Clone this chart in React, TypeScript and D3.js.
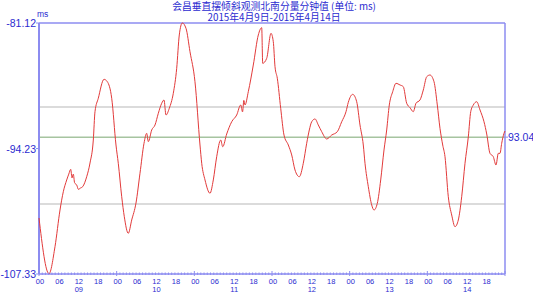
import React from "react";
import * as d3 from "d3";

const titleLines = ["会昌垂直摆倾斜观测北南分量分钟值 (单位: ms)", "2015年4月9日-2015年4月14日"];
const yTickValues = [-81.12, -94.23, -107.33];
const yTickLabels = ["-81.12", "-94.23", "-107.33"];
const dayLabels = ["09", "10", "11", "12", "13", "14"];
const hourLabels = ["00", "06", "12", "18"];
const refGreen = -93.04;
const refGrayHigh = -89.89;
const refGrayLow = -100.02;
const lastLabel = "93.04";

// hours since 2015-04-09 00:00
const hours = [
  0, 3.09, 4.94, 6.49, 7.51, 8.56, 9.2, 9.8, 10.2, 10.6, 11.0, 11.65, 12.2, 12.67, 13.5, 14.74, 15.76, 16.78, 17.3, 18.32,
  20.09, 21.11, 22.47, 23.79, 24.5, 25.56, 26.36, 27.59, 28.65, 29.97, 31.21, 32.45, 33.28, 33.78, 34.83,
  35.85, 36.87, 37.92, 38.63, 39.24, 40.26, 41.5, 42.55, 43.35, 44.28, 45.42, 46.66, 48.2, 49.75,
  50.28, 51.3, 52.84, 53.86, 54.91, 56.15, 56.77, 58.0, 59.55, 61.09, 62.33, 62.9, 63.3, 63.66, 64.68,
  66.22, 67.77, 68.82, 69.13, 70.36, 71.69, 72.4, 72.93, 73.64, 74.69, 75.71, 77.04, 78.09, 79.11,
  80.44, 81.67, 82.72, 83.53, 84.27, 85.29, 86.31, 87.36, 88.9, 90.45, 92.18, 93.54, 94.87, 95.58,
  96.94, 98.17, 99.19, 100.21, 100.74, 101.76, 102.81, 103.52, 104.54, 105.59, 106.61, 107.44,
  108.25, 109.3, 110.32, 111.55, 112.57, 113.62, 114.64, 115.66, 116.5, 117.73, 118.75, 119.81,
  120.82, 122.06, 123.08, 123.91, 124.75, 125.46, 126.48, 127.53, 128.55, 129.57, 130.62, 131.64,
  132.66, 133.41, 134.21, 135.26, 136.28, 137.51, 138.35, 139.36, 140.38, 141.22, 141.93, 142.45,
  142.98, 143.69, 144
];
const values = [
  -101.48, -107.3, -104.48, -100.65, -98.74, -97.51, -96.9, -96.4, -97.3, -96.9, -97.8, -98.04, -98.5, -98.38, -98.21, -97.17, -95.74, -93.34, -90.38, -88.98,
  -87.0, -87.25, -88.98, -93.86, -95.77, -99.26, -101.35, -103.08, -101.69, -99.92, -96.81, -93.68, -92.64, -93.51, -92.29,
  -91.77, -90.55, -89.5, -89.16, -90.73, -90.03, -88.46, -85.85, -82.37, -81.12, -81.67, -84.12, -87.25, -93.86,
  -95.77, -97.51, -98.9, -97.51, -95.08, -93.34, -94.04, -92.71, -91.43, -90.73, -89.68, -90.4, -89.2, -89.68, -88.29,
  -85.51, -82.37, -81.61, -85.33, -84.81, -82.2, -83.07, -85.68, -86.89, -90.03, -92.82, -93.86, -94.9, -96.47,
  -97.17, -95.77, -93.68, -92.29, -91.43, -91.14, -91.77, -92.47, -93.23, -92.82, -92.47, -91.43, -90.38, -89.4,
  -88.57, -89.34, -91.77, -93.86, -95.77, -98.21, -100.12, -100.65, -99.95, -97.51, -94.38, -92.29,
  -89.68, -88.29, -87.42, -87.59, -87.77, -89.5, -89.96, -90.38, -89.5, -89.16, -88.12, -86.73,
  -86.55, -87.25, -89.68, -92.12, -93.86, -95.08, -99.26, -101.17, -102.39, -101.69, -99.26, -95.77,
  -93.02, -90.38, -89.68, -89.34, -90.2, -91.43, -92.71, -94.73, -95.08, -95.95, -94.73, -94.73,
  -93.68, -92.64, -92.4
];

const W = 533;
const H = 292;
const left = 39;
const right = 505;
const top = 23;
const bottom = 274;

export default function App() {
  const x = d3.scaleLinear().domain([0, 144]).range([left, right]);
  const y = d3.scaleLinear().domain([-107.33, -81.12]).range([bottom, top]);
  const pts: [number, number][] = hours.map((h, i) => [h, values[i]]);
  const line = d3
    .line<[number, number]>()
    .x((d) => x(d[0]))
    .y((d) => y(d[1]))
    .curve(d3.curveMonotoneX);

  const axisColor = "#8c8cf0";
  const textColor = "#2b2bd0";
  const minor = d3.range(0, 145, 1);
  const labelTicks = d3.range(0, 144, 6);

  return (
    <svg
      width={W}
      height={H}
      style={{ position: "absolute", left: 0, top: 0, background: "#fff" }}
      fontFamily="'Liberation Sans', Arial, sans-serif"
    >
      <rect x={0} y={0} width={W} height={H} fill="#fff" />
      {titleLines.map((t, i) => (
        <text
          key={i}
          x={274}
          y={10 + i * 10.5}
          textAnchor="middle"
          fontSize={9.8}
          fill={textColor}
          fontFamily="'Noto Sans CJK SC', 'Liberation Sans', sans-serif"
        >
          {t}
        </text>
      ))}
      <text x={37} y={17} fontSize={8.5} fill={textColor}>ms</text>

      {/* reference lines */}
      <line x1={left} x2={right} y1={y(refGrayHigh)} y2={y(refGrayHigh)} stroke="#cfcfcf" strokeWidth={1.5} />
      <line x1={left} x2={right} y1={y(refGrayLow)} y2={y(refGrayLow)} stroke="#cfcfcf" strokeWidth={1.5} />
      <line x1={left} x2={right} y1={y(refGreen)} y2={y(refGreen)} stroke="#a6c4a0" strokeWidth={1.5} />

      {/* frame */}
      <line x1={left} x2={right} y1={top} y2={top} stroke={axisColor} strokeWidth={1.5} />
      <line x1={right} x2={right} y1={top} y2={bottom} stroke={axisColor} strokeWidth={1.5} />
      <line x1={left} x2={left} y1={top} y2={bottom} stroke={axisColor} strokeWidth={2} />
      <line x1={left} x2={right} y1={bottom} y2={bottom} stroke={axisColor} strokeWidth={1.5} />

      {/* data */}
      <path d={line(pts) || ""} fill="none" stroke="#e23a3a" strokeWidth={1} />

      {/* y ticks */}
      {yTickValues.map((v, i) => (
        <g key={i}>
          <line x1={left - 3} x2={left} y1={y(v)} y2={y(v)} stroke={axisColor} />
          <text x={left - 3} y={y(v) + 4} textAnchor="end" fontSize={10.5} fill={textColor}>
            {yTickLabels[i]}
          </text>
        </g>
      ))}
      <line x1={right} x2={right + 3} y1={y(refGreen)} y2={y(refGreen)} stroke={axisColor} />
      <text x={right + 3} y={y(refGreen) + 4} fontSize={10.5} fill={textColor}>{lastLabel}</text>

      {/* x ticks */}
      {minor.map((h) => (
        <line
          key={"m" + h}
          x1={x(h)}
          x2={x(h)}
          y1={h % 24 === 0 ? bottom - 3 : bottom - 1.5}
          y2={bottom + (h % 24 === 0 ? 2 : 1)}
          stroke={axisColor}
          strokeWidth={1}
        />
      ))}
      {labelTicks.map((h) => (
        <text key={"l" + h} x={x(h) + 1} y={bottom + 10} textAnchor="middle" fontSize={7.5} fill={textColor}>
          {hourLabels[(h / 6) % 4]}
        </text>
      ))}
      {dayLabels.map((d, i) => (
        <text key={"d" + i} x={x(i * 24 + 12) + 1} y={bottom + 17.5} textAnchor="middle" fontSize={7.5} fill={textColor}>
          {d}
        </text>
      ))}
    </svg>
  );
}
